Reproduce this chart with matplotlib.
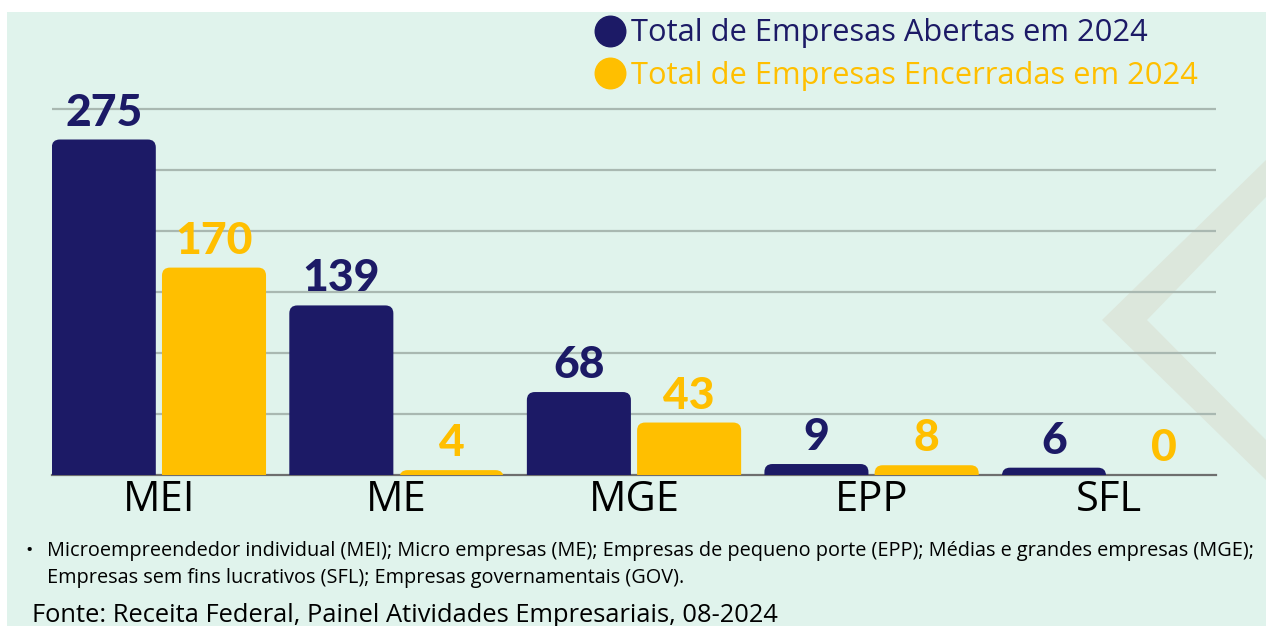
import matplotlib
matplotlib.use("Agg")
import matplotlib.pyplot as plt
from matplotlib.patches import FancyBboxPatch, Rectangle, Polygon
from matplotlib.lines import Line2D
import numpy as np

categories = ["MEI", "ME", "MGE", "EPP", "SFL"]
abertas = [275, 139, 68, 9, 6]
encerradas = [170, 4, 43, 8, 0]
series_labels = ["Total de Empresas Abertas em 2024", "Total de Empresas Encerradas em 2024"]
note_line1 = "Microempreendedor individual (MEI); Micro empresas (ME); Empresas de pequeno porte (EPP); Médias e grandes empresas (MGE);"
note_line2 = "Empresas sem fins lucrativos (SFL); Empresas governamentais (GOV)."
source = "Fonte: Receita Federal, Painel Atividades Empresariais, 08-2024"

NAVY = "#1C1A66"
YELLOW = "#FFBF00"
MINT = "#E0F3EC"
GRID = "#A9B8B1"
FONT = "Open Sans"
NUMFONT = "Lato"

W, H = 1266, 626
fig = plt.figure(figsize=(W / 100, H / 100), dpi=100, facecolor="white")

# background panel
fig.patches.append(Rectangle((7 / W, 0), 1 - 7 / W, 1 - 12 / H, transform=fig.transFigure,
                             facecolor=MINT, edgecolor="none", zorder=-10))
# decorative chevron
pts = [(1102, 320), (1266, 160), (1266, 197), (1147, 320), (1266, 440), (1266, 480)]
fig.patches.append(Polygon([(x / W, 1 - y / H) for x, y in pts], closed=True,
                           transform=fig.transFigure, facecolor="#DCE7DC", edgecolor="none",
                           zorder=-9))

ymax = 305
px_per_unit = 366 / 300
ax_bottom = 1 - 475 / H
ax_height = ymax * px_per_unit / H
ax = fig.add_axes([52 / W, ax_bottom, 1164 / W, ax_height])
ax.set_facecolor("none")

x = np.arange(len(categories))
bw = 0.438
off = 0.232
b1 = ax.bar(x - off, abertas, bw, color=NAVY)
b2 = ax.bar(x + off, encerradas, bw, color=YELLOW)

# replace with rounded-top bars
r_px = 8
xpx = 1164 / 4.9
asp = (1 / px_per_unit) / (1 / xpx)
for bars in (b1, b2):
    for rect in bars:
        rect.set_visible(False)
        h = rect.get_height()
        if h <= 0:
            continue
        p = FancyBboxPatch((rect.get_x(), -30), rect.get_width(), h + 30,
                           boxstyle=f"round,pad=0,rounding_size={r_px / xpx}",
                           mutation_aspect=asp, facecolor=rect.get_facecolor(),
                           edgecolor="none", zorder=3)
        ax.add_patch(p)

for bars, vals, col in ((b1, abertas, NAVY), (b2, encerradas, YELLOW)):
    for rect, v in zip(bars, vals):
        ax.annotate(f"{v}", (rect.get_x() + rect.get_width() / 2, v),
                    xytext=(0, 5), textcoords="offset points", ha="center", va="bottom",
                    fontsize=32, fontweight="black", family=NUMFONT, color=col, zorder=4)

ax.set_xlim(-0.45, 4.45)
ax.set_ylim(0, ymax)
ax.set_yticks([50, 100, 150, 200, 250, 300])
ax.yaxis.grid(True, color=GRID, linewidth=1.6, zorder=0)
ax.set_axisbelow(True)
ax.tick_params(axis="y", left=False, labelleft=False)
ax.set_xticks(x)
ax.set_xticklabels(categories, fontsize=30, family=FONT, color="black")
ax.tick_params(axis="x", length=0, pad=3)
for s in ["top", "right", "left"]:
    ax.spines[s].set_visible(False)
ax.spines["bottom"].set_color("#6E6E6E")
ax.spines["bottom"].set_linewidth(1.6)

# legend
handles = [Line2D([], [], marker="o", linestyle="none", markersize=22, color=NAVY),
           Line2D([], [], marker="o", linestyle="none", markersize=22, color=YELLOW)]
leg = fig.legend(handles, series_labels, loc="upper left", bbox_to_anchor=(580 / W, 1 - 6 / H),
                 frameon=False, prop={"family": FONT, "size": 22.2}, handletextpad=0.12,
                 labelspacing=0.4, handlelength=1.15, borderaxespad=0)
for t, c in zip(leg.get_texts(), [NAVY, YELLOW]):
    t.set_color(c)

# notes
fig.text(25 / W, 1 - 551 / H, "•", fontsize=14, family=FONT, va="center", ha="left")
fig.text(47 / W, 1 - 551 / H, note_line1, fontsize=14.3, family=FONT, va="center", ha="left")
fig.text(47 / W, 1 - 578 / H, note_line2, fontsize=14.3, family=FONT, va="center", ha="left")
fig.text(32 / W, 1 - 616 / H, source, fontsize=18.4, family=FONT, va="center", ha="left")

fig.savefig("out.png", dpi=100, facecolor="white")
